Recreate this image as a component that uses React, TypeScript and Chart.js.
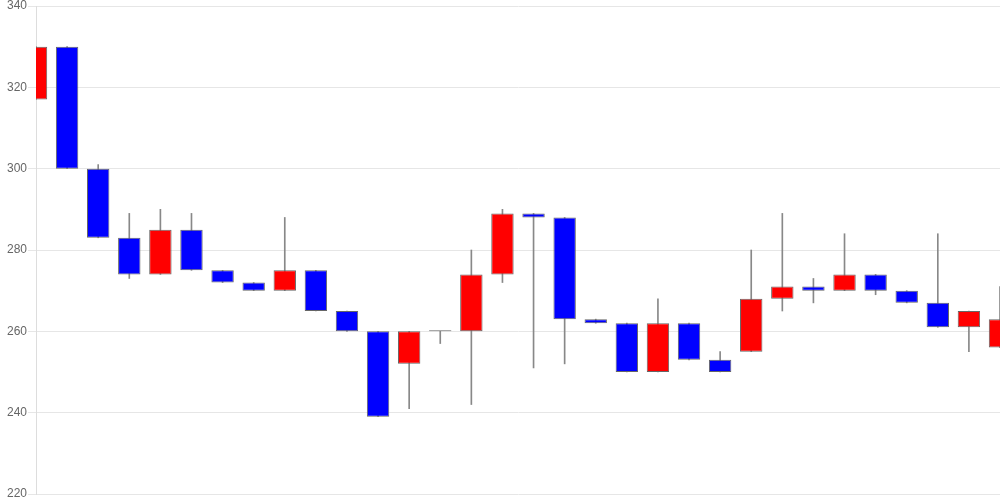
import React, { useEffect, useRef } from "react";
import { Chart, registerables } from "chart.js";

Chart.register(...registerables);

const labels = [
  "1", "2", "3", "4", "5", "6", "7", "8", "9", "10", "11", "12", "13", "14", "15", "16",
  "17", "18", "19", "20", "21", "22", "23", "24", "25", "26", "27", "28", "29", "30", "31", "32",
];
const opens = [317, 330, 300, 283, 274, 285, 275, 272, 270, 275, 265, 260, 252, 260, 260, 274, 289, 288, 263, 262, 250, 262, 253, 255, 268, 271, 270, 274, 270, 267, 261, 256];
const closes = [330, 300, 283, 274, 285, 275, 272, 270, 275, 265, 260, 239, 260, 260, 274, 289, 288, 263, 262, 250, 262, 253, 250, 268, 271, 270, 274, 270, 267, 261, 265, 263];
const highs = [330, 330, 301, 289, 290, 289, 275, 272, 288, 275, 265, 260, 260, 260, 280, 290, 289, 288, 263, 262, 268, 262, 255, 280, 289, 273, 284, 274, 270, 284, 265, 271];
const lows = [317, 300, 283, 273, 274, 275, 272, 270, 270, 265, 260, 239, 241, 257, 242, 272, 251, 252, 262, 250, 250, 253, 250, 255, 265, 267, 270, 269, 267, 261, 255, 256];
const yTicks = [220, 240, 260, 280, 300, 320, 340];

export default function App() {
  const ref = useRef<HTMLCanvasElement>(null);
  useEffect(() => {
    document.body.style.margin = "0";
    const bodies = opens.map((o, i) => [Math.min(o, closes[i]), Math.max(o, closes[i])]);
    const wicks = lows.map((l, i) => [l, highs[i]]);
    const colors = opens.map((o, i) =>
      closes[i] > o ? "#ff0000" : closes[i] < o ? "#0000ff" : "#555555"
    );
    const chart = new Chart(ref.current!, {
      type: "bar",
      data: {
        labels,
        datasets: [
          {
            data: bodies as any,
            backgroundColor: colors,
            borderColor: "#666666",
            borderWidth: 1,
            borderSkipped: false,
            minBarLength: 1,
            categoryPercentage: 1,
            barPercentage: 0.72,
            grouped: false,
            clip: 0 as any,
          },
          {
            data: wicks as any,
            backgroundColor: "#888888",
            borderWidth: 0,
            barThickness: 1,
            grouped: false,
            clip: 0 as any,
          },
        ],
      },
      options: {
        responsive: false,
        animation: false,
        layout: { padding: 0 },
        plugins: { legend: { display: false }, tooltip: { enabled: false } },
        scales: {
          x: { type: "category", offset: false, display: false },
          y: {
            min: yTicks[0],
            max: yTicks[yTicks.length - 1],
            afterBuildTicks: (s: any) => {
              s.ticks = yTicks.map((v) => ({ value: v }));
            },
            afterFit: (s: any) => {
              s.width = 36;
              s.paddingTop = 6;
              s.paddingBottom = 6;
            },
            grid: { color: "#e6e6e6", tickLength: 8 },
            border: { color: "#dddddd" },
            ticks: {
              color: "#666666",
              font: { family: "'Liberation Sans', Arial, sans-serif", size: 12 },
              padding: 1,
            },
          },
        },
      },
    });
    return () => chart.destroy();
  }, []);
  return <canvas ref={ref} width={1000} height={500} style={{ display: "block" }} />;
}
